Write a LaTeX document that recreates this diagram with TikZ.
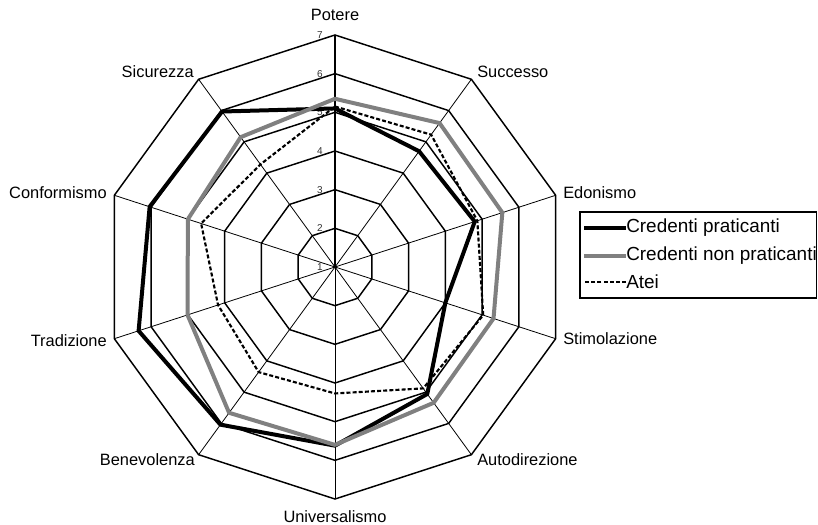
\documentclass[tikz,border=0pt]{standalone}
\usepackage{fontspec}
\setmainfont{Liberation Sans}
\usepackage{tikz}
\usetikzlibrary{calc}
\newcommand{\passo}{38.67}

\begin{document}
\begin{tikzpicture}[x=0.75pt, y=0.75pt,
  anello/.style={line width=1.1pt, line join=miter},
  raggio/.style={line width=0.6pt},
  asse/.style={line width=1.9pt},
  etichetta/.style={font=\fontsize{12.3}{14}\selectfont, inner sep=0pt},
  tacca/.style={font=\fontsize{7.5}{8}\selectfont, text=black!80, anchor=east, inner sep=0pt},
  voce/.style={font=\fontsize{14.2}{16}\selectfont, anchor=west, inner sep=0pt},
  praticanti/.style={line width=3pt, black, line join=round},
  nonpraticanti/.style={line width=3pt, black!50, line join=round},
  atei/.style={line width=1.6pt, dash pattern=on 3pt off 1.6pt, line join=round}]
  \useasboundingbox (0,0) rectangle (818,525);
  \begin{scope}[shift={(335,258)}]
    % Griglia: anelli 2..7
    \foreach \k in {2,...,7} {
      \draw[anello] (90:{(\k-1)*\passo})
        \foreach \a in {1,...,9} { -- ({90-36*\a}:{(\k-1)*\passo}) } -- cycle;
    }
    % Raggi
    \foreach \a in {1,...,9}
      \draw[raggio] (0,0) -- ({90-36*\a}:{6*\passo});
    \draw[asse] (0,0) -- (90:{6*\passo});
    % Scala
    \foreach \k in {1,...,7}
      \node[tacca] (t\k) at (-12, {(\k-1)*\passo}) {\k};
    % Serie
    \draw[praticanti] (90:{4.1*\passo})
      \foreach \v [count=\i] in {4.7,4.8,4.0,5.06,5.62,6.04,6.34,6.04,5.97}
        { -- ({90-36*\i}:{(\v-1)*\passo}) } -- cycle;
    \draw[nonpraticanti] (90:{4.35*\passo})
      \foreach \v [count=\i] in {5.6,5.55,5.31,5.34,5.6,5.66,5.01,5.0,5.15}
        { -- ({90-36*\i}:{(\v-1)*\passo}) } -- cycle;
    \draw[atei] (90:{4.15*\passo})
      \foreach \v [count=\i] in {5.23,4.87,5.03,4.88,4.27,4.36,4.18,4.64,4.28}
        { -- ({90-36*\i}:{(\v-1)*\passo}) } -- cycle;
    % Etichette
    \node[etichetta] (potere) at (0,252) {Potere};
    \node[etichetta, anchor=west] (successo) at (142,195) {Successo};
    \node[etichetta, anchor=west] (edonismo) at (228,74) {Edonismo};
    \node[etichetta, anchor=west] (stimolazione) at (228,-72) {Stimolazione};
    \node[etichetta, anchor=west] (autodirezione) at (142,-193) {Autodirezione};
    \node[etichetta] (universalismo) at (0,-250) {Universalismo};
    \node[etichetta, anchor=east] (benevolenza) at (-140,-193) {Benevolenza};
    \node[etichetta, anchor=east] (tradizione) at (-228,-74) {Tradizione};
    \node[etichetta, anchor=east] (conformismo) at (-228,74) {Conformismo};
    \node[etichetta, anchor=east] (sicurezza) at (-141,195) {Sicurezza};
    % Legenda
    \draw[line width=1.1pt] (245,55) rectangle (481.5,-31);
    \node[voce] (v1) at (291,39) {Credenti praticanti};
    \node[voce] (v2) at (291,11) {Credenti non praticanti};
    \node[voce] (v3) at (291,-15) {Atei};
    \draw[praticanti] (v1.west) -- ++(-42,0);
    \draw[nonpraticanti] (v2.west) -- ++(-42,0);
    \draw[atei] (v3.west) -- ++(-42,0);
  \end{scope}
\end{tikzpicture}
\end{document}
